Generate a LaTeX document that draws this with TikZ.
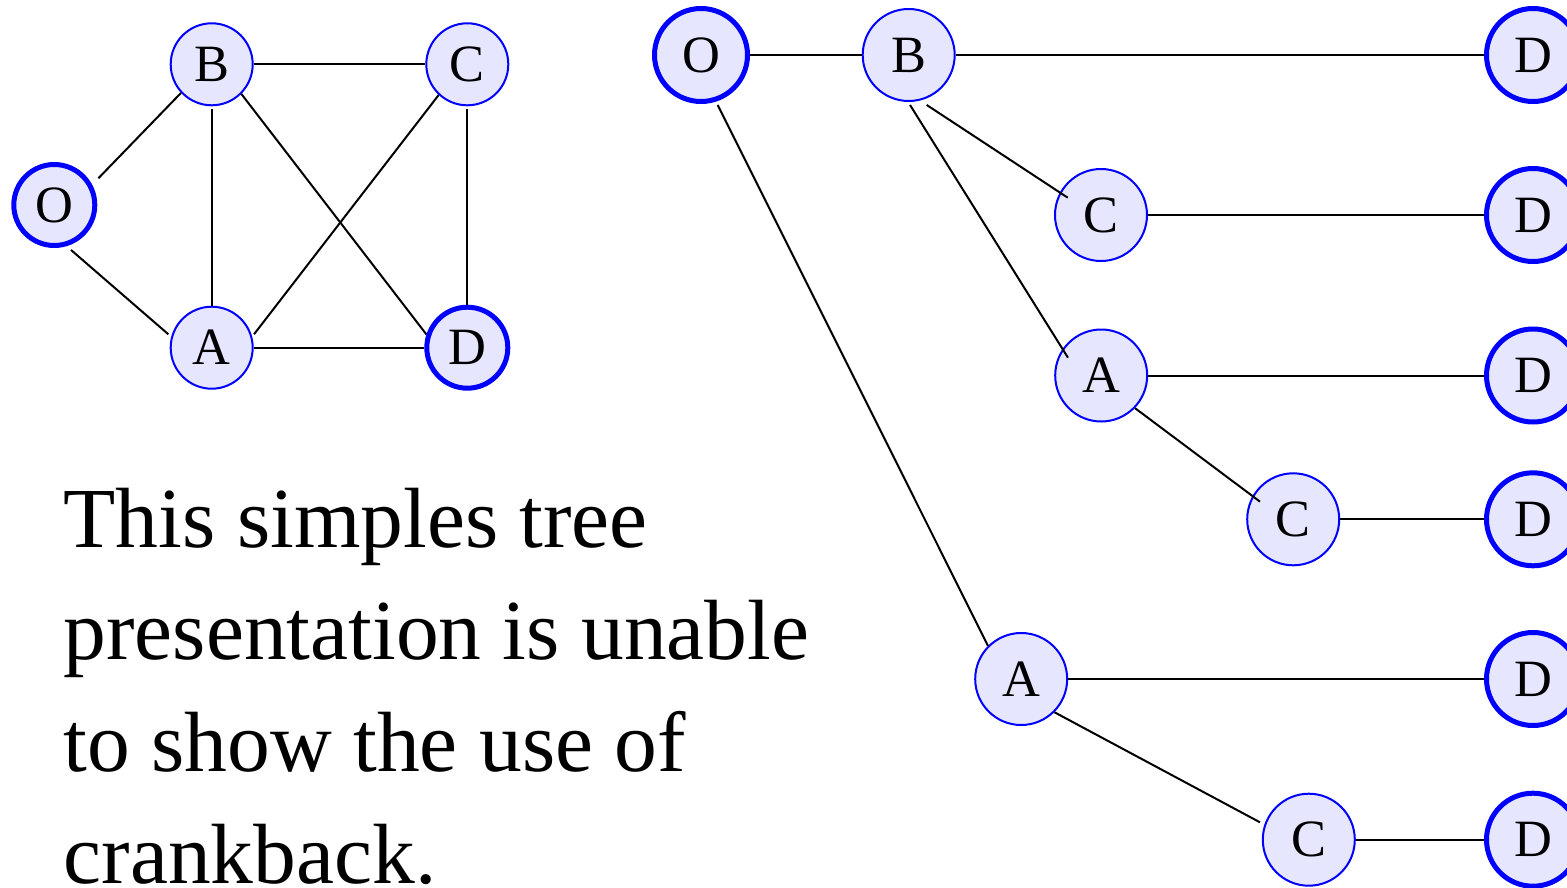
\documentclass[tikz,border=0pt]{standalone}
\usepackage{fontspec}
\setmainfont{Liberation Serif}
\usetikzlibrary{calc}
\definecolor{nodefill}{RGB}{230,230,255}
\begin{document}
\begin{tikzpicture}[x=1pt,y=1pt,
  vtx/.style={circle,draw=blue,fill=nodefill,line width=2pt,inner sep=0pt,font=\fontsize{52.4}{52.4}\selectfont},
  sm/.style={vtx,minimum size=82pt},
  smend/.style={vtx,minimum size=81pt,line width=5pt},
  bg/.style={vtx,minimum size=92pt},
  bgend/.style={vtx,minimum size=93pt,line width=5pt},
  edge/.style={draw=black,line width=2pt},
  txt/.style={anchor=base west,inner sep=0pt,font=\fontsize{85.5}{112}\selectfont}]
\useasboundingbox (0,0) rectangle (1567,-888);
% left graph
\node[smend] (O1) at (54.3,-205) {O};
\node[sm] (B1) at (211.7,-64.3) {B};
\node[sm] (C1) at (467.3,-64.3) {C};
\node[sm] (A1) at (211.7,-347.7) {A};
\node[smend] (D1) at (467.3,-347.7) {D};
\draw[edge] ($(O1)+(31.2:51.5)$) -- (B1.223.4);
\draw[edge] ($(O1)+(-69.6:48)$) -- ($(A1)+(162.8:45.4)$);
\draw[edge] (B1.east) -- (C1.west);
\draw[edge] ($(B1)+(-90:45)$) -- (A1.north);
\draw[edge] (B1.-45.7) -- (D1.162.4);
\draw[edge] (C1.227.6) -- ($(A1)+(17.6:44.4)$);
\draw[edge] ($(C1)+(-90:45)$) -- (D1.north);
\draw[edge] (A1.east) -- (D1.west);
% tree
\node[bgend] (O2) at (701,-55) {O};
\node[bg] (B2) at (908.7,-55) {B};
\node[bgend] (Da) at (1533,-55) {D};
\node[bg] (C2) at (1101,-215) {C};
\node[bgend] (Db) at (1533,-215) {D};
\node[bg] (A2) at (1101.2,-375.5) {A};
\node[bgend] (Dc) at (1533,-375.5) {D};
\node[bg] (C2b) at (1293.2,-519.3) {C};
\node[bgend] (Dd) at (1533,-519.3) {D};
\node[bg] (A2b) at (1021.2,-679) {A};
\node[bgend] (De) at (1533,-679) {D};
\node[bg] (C2c) at (1308.8,-839.7) {C};
\node[bgend] (Df) at (1533,-839.7) {D};
\draw[edge] (O2.east) -- (B2.west);
\draw[edge] (B2.east) -- (Da.west);
\draw[edge] ($(O2)+(-71.5:52.7)$) -- (A2b.135.4);
\draw[edge] ($(B2)+(-70.2:53.1)$) -- ($(C2)+(152.5:37.5)$);
\draw[edge] ($(B2)+(-88.5:50)$) -- ($(A2)+(151.8:37.7)$);
\draw[edge] (C2.east) -- (Db.west);
\draw[edge] (A2.east) -- (Dc.west);
\draw[edge] (A2.-44.7) -- ($(C2b)+(152:37.6)$);
\draw[edge] (C2b.east) -- (Dd.west);
\draw[edge] (A2b.east) -- (De.west);
\draw[edge] (A2b.-45.3) -- ($(C2c)+(160.4:51.8)$);
\draw[edge] (C2c.east) -- (Df.west);
% text
\node[txt] (t1) at (63.5,-547.3) {This simples tree};
\node[txt] (t2) at (63.5,-659) {presentation is unable};
\node[txt] (t3) at (63.5,-771) {to show the use of};
\node[txt] (t4) at (63.5,-883.3) {crankback.};
\end{tikzpicture}
\end{document}
